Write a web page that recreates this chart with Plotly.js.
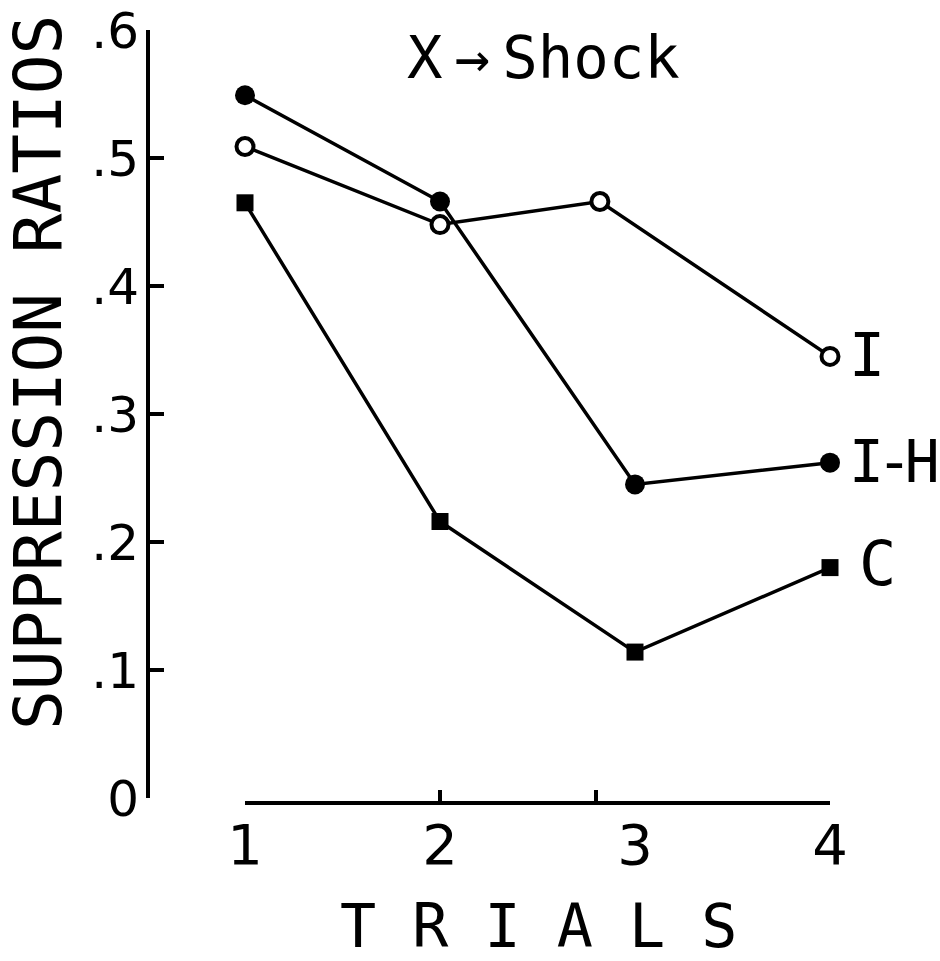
<!DOCTYPE html>
<html>
<head>
<meta charset="utf-8">
<script src="https://cdn.plot.ly/plotly-3.0.1.min.js"></script>
<style>html,body{margin:0;padding:0;background:#fff;}#chart{width:940px;height:961px;}</style>
</head>
<body>
<div id="chart"></div>
<script>
// ---- data ----
const trials = [1, 2, 3, 4];
const trialLabels = ['1', '2', '3', '4'];
const trialTickMarks = [1, 2, 2.8, 4];          // where the tick marks were drawn
const trialsI = [1, 2, 2.82, 4];                // group I point at trial 3 is drawn left
const groupI  = [0.509, 0.448, 0.466, 0.345];   // open circles
const groupIH = [0.549, 0.466, 0.245, 0.262];   // filled circles
const groupC  = [0.465, 0.216, 0.114, 0.180];   // filled squares
const yTickVals = [0, 0.1, 0.2, 0.3, 0.4, 0.5, 0.6];
const yTickText = ['0', '.1', '.2', '.3', '.4', '.5', '.6'];
const seriesNames = ['I', 'I-H', 'C'];

// ---- layout helpers (pixels -> paper) ----
const W = 940, H = 961;
const px = v => v / W;
const py = v => 1 - v / H;
const FONT = 'DejaVu Sans Mono';
const SANS = 'DejaVu Sans';

const lineStyle = {color: '#000', width: 3.5};

const traces = [
  {x: trials, y: groupC, name: seriesNames[2], mode: 'lines+markers', line: lineStyle,
   marker: {symbol: 'square', size: 17, color: '#000'}, cliponaxis: false},
  {x: trials, y: groupIH, name: seriesNames[1], mode: 'lines+markers', line: lineStyle,
   marker: {symbol: 'circle', size: 20, color: '#000'}, cliponaxis: false},
  {x: trialsI, y: groupI, name: seriesNames[0], mode: 'lines+markers', line: lineStyle,
   marker: {symbol: 'circle', size: 17, color: '#fff', line: {color: '#000', width: 4}}, cliponaxis: false},
  {x: [trials[0]], y: [null], xaxis: 'x2', mode: 'markers', showlegend: false, hoverinfo: 'skip'}
];

const xDomain = [px(245), px(830)];
const layout = {
  width: W, height: H,
  margin: {l: 0, r: 0, t: 0, b: 0, pad: 0},
  paper_bgcolor: '#fff', plot_bgcolor: 'rgba(0,0,0,0)',
  showlegend: false,
  font: {family: FONT, color: '#000'},
  xaxis: {
    domain: xDomain, range: [1, 4], anchor: 'free', position: py(803),
    showline: true, linecolor: '#000', linewidth: 4,
    showgrid: false, zeroline: false,
    tickmode: 'array', tickvals: trials, ticktext: trialLabels,
    ticks: '', ticklabelstandoff: -8,
    tickfont: {family: SANS, size: 56, color: '#000'}
  },
  xaxis2: {
    overlaying: 'x', range: [1, 4], anchor: 'free', position: py(803),
    showline: false, showgrid: false, zeroline: false,
    tickmode: 'array', tickvals: trialTickMarks,
    ticks: 'inside', ticklen: 13, tickwidth: 4, tickcolor: '#000',
    showticklabels: false
  },
  yaxis: {
    domain: [py(798), py(30)], range: [0, 0.6], anchor: 'free', position: px(148),
    showline: true, linecolor: '#000', linewidth: 4,
    showgrid: false, zeroline: false,
    tickmode: 'array', tickvals: yTickVals, ticktext: yTickText,
    ticks: 'inside', ticklen: 14, tickwidth: 4, tickcolor: '#000',
    ticklabelstandoff: -3,
    tickfont: {family: SANS, size: 50, color: '#000'}
  },
  annotations: [
    {text: 'SUPPRESSION RATIOS', xref: 'paper', yref: 'paper', x: px(38), y: py(373),
     xanchor: 'center', yanchor: 'middle', textangle: -90, showarrow: false, borderpad: 0,
     font: {family: FONT, size: 66, color: '#000'}},
    {text: 'T R I A L S', xref: 'paper', yref: 'paper', x: px(538), y: py(926),
     xanchor: 'center', yanchor: 'middle', showarrow: false, borderpad: 0,
     font: {family: FONT, size: 60, color: '#000'}},
    {text: "X<span style='font-size:20px'> </span>→<span style='font-size:20px'> </span>Shock",
     xref: 'paper', yref: 'paper', x: px(406), y: py(58),
     xanchor: 'left', yanchor: 'middle', showarrow: false, borderpad: 0,
     font: {family: FONT, size: 59, color: '#000'}},
    {text: seriesNames[0], xref: 'paper', yref: 'paper', x: px(867), y: py(355),
     xanchor: 'center', yanchor: 'middle', showarrow: false, borderpad: 0,
     font: {family: FONT, size: 60, color: '#000'}},
    {text: "I<span style='font-family:DejaVu Sans'>-</span>H", xref: 'paper', yref: 'paper',
     x: px(848), y: py(462),
     xanchor: 'left', yanchor: 'middle', showarrow: false, borderpad: 0,
     font: {family: FONT, size: 58, color: '#000'}},
    {text: seriesNames[2], xref: 'paper', yref: 'paper', x: px(877), y: py(563),
     xanchor: 'center', yanchor: 'middle', showarrow: false, borderpad: 0,
     font: {family: FONT, size: 62, color: '#000'}}
  ]
};

Plotly.newPlot('chart', traces, layout, {staticPlot: true, displayModeBar: false});
</script>
</body>
</html>
